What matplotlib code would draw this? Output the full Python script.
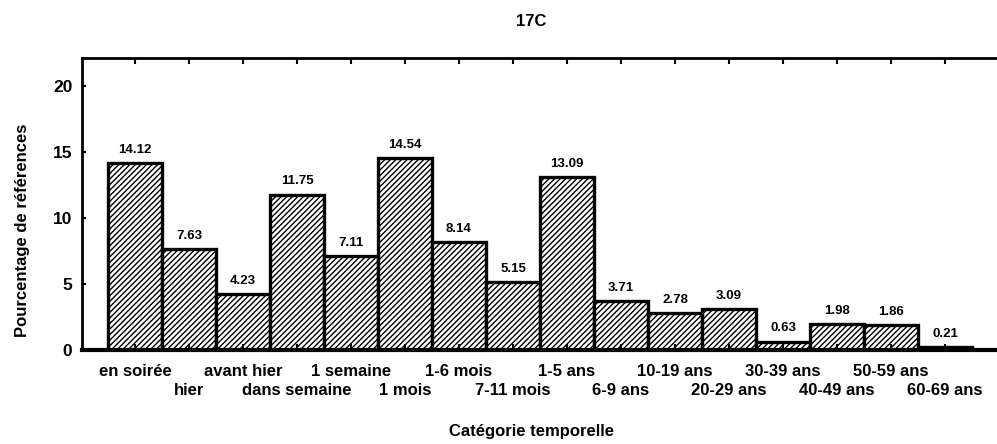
import matplotlib
matplotlib.use("Agg")
import matplotlib.pyplot as plt

categories = ["en soirée", "hier", "avant hier", "dans semaine", "1 semaine", "1 mois",
              "1-6 mois", "7-11 mois", "1-5 ans", "6-9 ans", "10-19 ans", "20-29 ans",
              "30-39 ans", "40-49 ans", "50-59 ans", "60-69 ans"]
values = [14.12, 7.63, 4.23, 11.75, 7.11, 14.54, 8.14, 5.15, 13.09, 3.71, 2.78, 3.09,
          0.63, 1.98, 1.86, 0.21]
y_ticks = [0, 5, 10, 15, 20]

plt.rcParams["font.family"] = ["Liberation Sans", "DejaVu Sans"]
plt.rcParams["hatch.linewidth"] = 1.0
plt.rcParams["hatch.color"] = "black"

W, H = 997, 444
fig = plt.figure(figsize=(W / 100, H / 100), dpi=100)
ax = fig.add_axes([82 / W, (H - 350) / H, (W - 82) / W, 292 / H])

x = list(range(len(values)))
ax.bar(x, values, width=1.0, color="white", edgecolor="black", linewidth=2.4,
       hatch="//////")

for xi, v in zip(x, values):
    ax.text(xi, v + 0.55, f"{v:.2f}", ha="center", va="bottom", fontsize=9.5,
            fontweight="bold")

ax.set_xlim(-0.98, 15.96)
ax.set_ylim(0, 22.1)

# tick labels alternate between two rows: even categories on top, odd below
ax.set_xticks(x[0::2])
ax.set_xticklabels(categories[0::2], fontsize=12, fontweight="bold")
ax.set_xticks(x[1::2], minor=True)
ax.set_xticklabels(categories[1::2], minor=True, fontsize=12, fontweight="bold")
ax.tick_params(axis="x", which="both", direction="in", length=4, width=1.5,
               top=True)
ax.tick_params(axis="x", which="major", pad=10)
ax.tick_params(axis="x", which="minor", pad=24)

ax.set_yticks(y_ticks)
ax.set_yticklabels([str(t) for t in y_ticks], fontsize=12.5, fontweight="bold")
ax.tick_params(axis="y", direction="in", length=3, width=1.5, pad=7)

ax.spines["right"].set_visible(False)
ax.spines["top"].set_linewidth(2.0)
ax.spines["left"].set_linewidth(2.0)
ax.spines["bottom"].set_linewidth(3.0)

fig.text(23 / W, 1 - 230 / H, "Pourcentage de références", rotation=90,
         ha="center", va="center", fontsize=12, fontweight="bold")
fig.text(531 / W, 1 - 431 / H, "Catégorie temporelle", ha="center", va="center",
         fontsize=12, fontweight="bold")
fig.text(531 / W, 1 - 21 / H, "17C", ha="center", va="center", fontsize=12,
         fontweight="bold")

fig.savefig("out.png", dpi=100)
